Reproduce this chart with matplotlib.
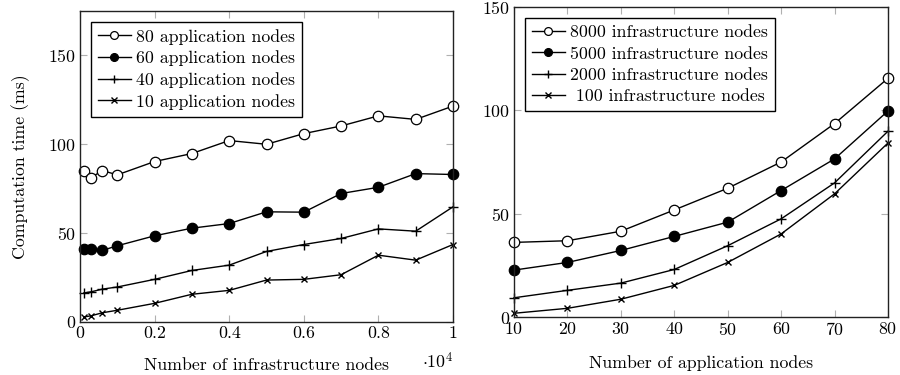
import matplotlib
matplotlib.use("Agg")
import matplotlib.pyplot as plt
import numpy as np

plt.rcParams['font.family'] = 'serif'
plt.rcParams['font.serif'] = ['cmr10']
plt.rcParams['mathtext.fontset'] = 'cm'
plt.rcParams['axes.formatter.use_mathtext'] = True

# Left panel data
infra_nodes = [100, 300, 600, 1000, 2000, 3000, 4000, 5000, 6000, 7000, 8000, 9000, 10000]
app80 = [84.7, 81.3, 85.2, 82.8, 90.3, 94.8, 102.1, 100.0, 106.0, 110.3, 116.0, 114.0, 121.5]
app60 = [41.0, 40.8, 40.3, 42.9, 48.5, 52.8, 55.4, 62.0, 61.8, 72.3, 75.8, 83.5, 83.0]
app40 = [16.3, 17.0, 18.5, 19.7, 24.0, 29.0, 32.0, 39.7, 43.6, 47.0, 52.4, 51.1, 64.8]
app10 = [2.8, 3.5, 5.2, 6.6, 10.5, 15.6, 17.8, 23.6, 24.0, 26.6, 37.6, 34.8, 43.6]
left_labels = ['80 application nodes', '60 application nodes', '40 application nodes', '10 application nodes']
left_xticks = [0, 2000, 4000, 6000, 8000, 10000]
left_xticklabels = ['0', '0.2', '0.4', '0.6', '0.8', '1']
left_yticks = [0, 50, 100, 150]

# Right panel data
app_nodes = [10, 20, 30, 40, 50, 60, 70, 80]
inf8000 = [36.1, 36.9, 41.5, 51.8, 62.3, 75.0, 93.6, 115.5]
inf5000 = [22.7, 26.4, 32.2, 39.0, 45.9, 61.2, 76.5, 99.7]
inf2000 = [9.3, 12.9, 16.4, 23.0, 34.5, 47.5, 64.9, 89.9]
inf100 = [1.8, 4.2, 8.6, 15.3, 26.4, 40.2, 59.6, 84.2]
right_labels = ['8000 infrastructure nodes', '5000 infrastructure nodes', '2000 infrastructure nodes', ' 100 infrastructure nodes']
right_xticks = [10, 20, 30, 40, 50, 60, 70, 80]
right_yticks = [0, 50, 100, 150]

FS = 12.8
fig = plt.figure(figsize=(9, 3.75), dpi=100)
ax1 = fig.add_axes([80/900, 1-322/375, (453-80)/900, (322-11)/375])
ax2 = fig.add_axes([514/900, 1-317/375, (888-514)/900, (317-7)/375])

styles = [
    dict(marker='o', markerfacecolor='white', markeredgecolor='black', markersize=7.5, markeredgewidth=0.9),
    dict(marker='o', markerfacecolor='black', markeredgecolor='black', markersize=7.5, markeredgewidth=0.9),
    dict(marker='+', markeredgecolor='black', markersize=7, markeredgewidth=1.0),
    dict(marker='x', markeredgecolor='black', markersize=5, markeredgewidth=1.0),
]

for ys, lab, st in zip([app80, app60, app40, app10], left_labels, styles):
    ax1.plot(infra_nodes, ys, color='black', linewidth=1.0, label=lab, clip_on=False, **st)
for ys, lab, st in zip([inf8000, inf5000, inf2000, inf100], right_labels, styles):
    ax2.plot(app_nodes, ys, color='black', linewidth=1.0, label=lab, clip_on=False, **st)

ax1.set_xlim(0, 10000)
ax1.set_ylim(0, 175)
ax1.set_xticks(left_xticks)
ax1.set_xticklabels(left_xticklabels)
ax1.set_yticks(left_yticks)
ax1.set_xlabel('Number of infrastructure nodes', fontsize=FS, labelpad=12)
ax1.set_ylabel('Computation time (ms)', fontsize=FS, labelpad=13)
ax1.text(1.0, -0.125, r'$\cdot 10^4$', transform=ax1.transAxes, fontsize=FS, ha='right', va='center')

ax2.set_xlim(10, 80)
ax2.set_ylim(0, 150)
ax2.set_xticks(right_xticks)
ax2.set_yticks(right_yticks)
ax2.set_xlabel('Number of application nodes', fontsize=FS, labelpad=12)

for ax in (ax1, ax2):
    ax.tick_params(direction='in', top=True, right=True, length=5, width=0.8,
                   color='#b0b0b0', labelsize=FS, pad=3)
    for sp in ax.spines.values():
        sp.set_color('#222222')
        sp.set_linewidth(1.0)
    leg = ax.legend(loc='upper left', fontsize=FS, frameon=True, fancybox=False,
                    edgecolor='black', framealpha=1, handlelength=1.85,
                    handletextpad=0.3, labelspacing=0.33, borderpad=0.4,
                    borderaxespad=0.6, markerscale=0.75)
    leg.get_frame().set_linewidth(1.0)

fig.savefig('out.png', dpi=100)
